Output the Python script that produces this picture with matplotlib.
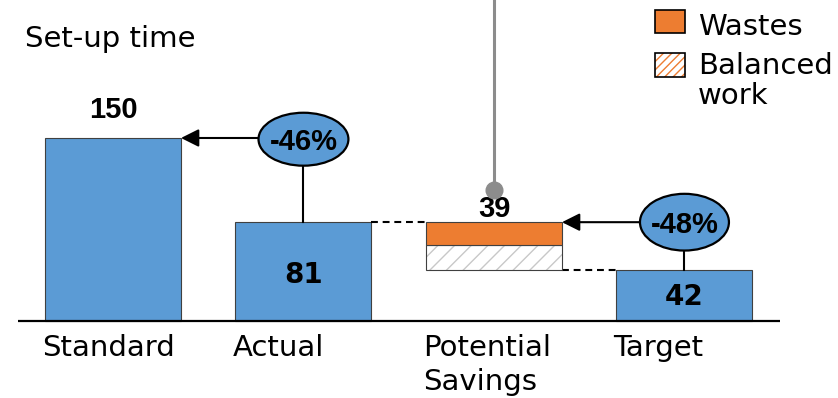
import numpy as np
import matplotlib.pyplot as plt
from matplotlib.patches import Ellipse, Rectangle

# data
categories = ['Standard', 'Actual', 'Potential\nSavings', 'Target']
standard = 150
actual = 81
wastes = 19
balanced = 20
target = 42

blue = '#5B9BD5'
orange = '#ED7D31'
edge = '#404040'
num_font = 'Liberation Sans'

fig = plt.figure(figsize=(8.38, 3.98), dpi=100)
ax = fig.add_axes([0, 0, 1, 1])
ax.set_xlim(-0.593, 3.806)
ax.set_ylim(-63.1, 263.1)
ax.axis('off')

x = np.arange(len(categories))
w = 0.714

# bars
ax.bar(x[[0, 1, 3]], [standard, actual, target], width=w, color=blue,
       edgecolor=edge, lw=0.8, zorder=2)
ax.bar(x[2], balanced, bottom=target, width=w, color='white',
       edgecolor='#c8c8c8', hatch='//', lw=0, zorder=2)
ax.bar(x[2], balanced, bottom=target, width=w, fill=False,
       edgecolor=edge, lw=0.8, zorder=3)
ax.bar(x[2], wastes, bottom=target + balanced, width=w, color=orange,
       edgecolor=edge, lw=0.8, zorder=3)

ax.hlines(0, -0.5, 3.5, color='black', lw=1.6, zorder=4)

# dashed connectors
ax.hlines(actual, x[1] + w / 2, x[2] - w / 2, color='black', lw=1.5,
          linestyles=(0, (3.3, 2.3)))
ax.hlines(target, x[2] + w / 2, x[3] - w / 2, color='black', lw=1.5,
          linestyles=(0, (3.3, 2.3)))

# value labels
ax.text(x[0], standard + 16.5, str(standard), ha='center', va='baseline',
        fontsize=21, fontweight='bold', family=num_font)
ax.text(x[2], actual + 4, str(wastes + balanced), ha='center', va='baseline',
        fontsize=21, fontweight='bold', family=num_font)
ax.text(x[1], actual * 0.385, str(actual), ha='center', va='baseline',
        fontsize=20, fontweight='bold', family='DejaVu Sans')
ax.text(x[3], target * 0.31, str(target), ha='center', va='baseline',
        fontsize=20, fontweight='bold', family='DejaVu Sans')

# category labels
for xi, lab in zip(x, categories):
    ax.text(xi - w / 2 - 0.016, -10.5, lab, ha='left', va='top', fontsize=21,
            family='DejaVu Sans', linespacing=1.3)

# percentage bubbles with arrows
def bubble(cx, cy, ew, eh, target_x, target_y, bar_top, pct):
    ax.add_patch(Ellipse((cx, cy), ew, eh, facecolor=blue, edgecolor='black',
                         lw=1.6, zorder=5))
    ax.text(cx, cy - 8.5, f'{pct:.0f}%', ha='center', va='baseline',
            fontsize=21, fontweight='bold', family=num_font, zorder=6)
    ax.annotate('', xy=(target_x, target_y), xytext=(cx - ew / 2, target_y),
                arrowprops=dict(arrowstyle='-|>', color='black', lw=1.5,
                                mutation_scale=27, shrinkA=0, shrinkB=0),
                zorder=4)
    ax.plot([cx, cx], [cy - eh / 2, bar_top], color='black', lw=1.5, zorder=4)

bubble(x[1], standard - 1, 0.472, 43.4, x[0] + w / 2, standard, actual,
       (actual - standard) / standard * 100)
bubble(x[3], actual, 0.467, 46.5, x[2] + w / 2, actual, target,
       (target - actual) / actual * 100)

# grey pointer from above
ax.plot([x[2], x[2]], [actual + 26, 263.1], color='#8c8c8c', lw=2.2, zorder=4)
ax.plot(x[2], actual + 26, 'o', color='#8c8c8c', ms=12, zorder=5)

# title
fig.text(25 / 838, 1 - 25 / 398, 'Set-up time', ha='left', va='top',
         fontsize=21, family='DejaVu Sans')

# legend (drawn by hand so the swatches sit beside the first text line)
def px(xp, yp):
    return xp / 838, 1 - yp / 398

ax.add_patch(Rectangle(px(655, 33), 30 / 838, 23 / 398, transform=ax.transAxes,
                       facecolor=orange, edgecolor='black', lw=1.2))
ax.add_patch(Rectangle(px(655, 77), 30 / 838, 24 / 398, transform=ax.transAxes,
                       facecolor='white', edgecolor=orange, hatch='////', lw=0))
ax.add_patch(Rectangle(px(655, 77), 30 / 838, 24 / 398, transform=ax.transAxes,
                       fill=False, edgecolor='black', lw=1.2))
ax.text(*px(698, 35), 'Wastes', transform=ax.transAxes, ha='left',
        va='baseline', fontsize=21, family='DejaVu Sans')
ax.text(*px(698, 52), 'Balanced\nwork', transform=ax.transAxes, ha='left',
        va='top', fontsize=21, family='DejaVu Sans', linespacing=1.08)

fig.savefig('out.png', dpi=100)
